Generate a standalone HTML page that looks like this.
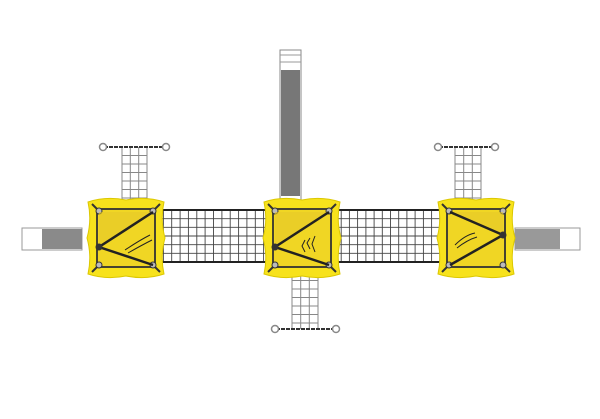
<!DOCTYPE html>
<html><head><style>html,body{margin:0;padding:0;background:#fff;width:600px;height:419px;overflow:hidden}</style></head>
<body>
<svg width="600" height="419" viewBox="0 0 600 419" xmlns="http://www.w3.org/2000/svg">
<defs>
<g id="plat">
<path d="M-38 -36 Q-20 -42 0 -38 Q20 -42 38 -36 Q34 -18 39 0 Q34 18 38 36 Q20 42 0 38 Q-20 42 -38 36 Q-34 18 -39 0 Q-34 -18 -38 -36Z" fill="#f7e21c" stroke="#dcc800" stroke-width="1"/>
<rect x="-29" y="-29" width="58" height="58" fill="#f0d624" stroke="#333" stroke-width="1.8"/>
<path d="M-34 -34L-26 -26M34 -34L26 -26M-34 34L-26 26M34 34L26 26" stroke="#333" stroke-width="2"/>
<circle cx="-27" cy="-27" r="3" fill="#bbb" stroke="#333"/><circle cx="27" cy="-27" r="3" fill="#bbb" stroke="#333"/>
<circle cx="-27" cy="27" r="3" fill="#bbb" stroke="#333"/><circle cx="27" cy="27" r="3" fill="#bbb" stroke="#333"/>
</g>
</defs>
<!-- top slide -->
<rect x="280" y="50" width="21" height="150" fill="#fff" stroke="#888"/>
<rect x="281" y="70" width="19" height="126" fill="#777"/>
<path d="M280 55H301M280 62H301" stroke="#999"/>
<!-- side slides -->
<rect x="22" y="228" width="60" height="22" fill="#fff" stroke="#999"/>
<rect x="42" y="229" width="40" height="20" fill="#8a8a8a"/>
<rect x="515" y="228" width="65" height="22" fill="#fff" stroke="#999"/>
<rect x="515" y="229" width="45" height="20" fill="#999"/>
<!-- ladders -->
<g stroke="#888" stroke-width="1" fill="none">
<path d="M122 147V207M130.3 147V207M138.7 147V207M147 147V207M122 155.5H147M122 164H147M122 172.5H147M122 181H147M122 189.5H147M122 198H147"/>
<path d="M455 147V207M463.7 147V207M472.3 147V207M481 147V207M455 155.5H481M455 164H481M455 172.5H481M455 181H481M455 189.5H481M455 198H481"/>
<path d="M292 272V329M300.7 272V329M309.3 272V329M318 272V329M292 280.5H318M292 289H318M292 297.5H318M292 306H318M292 314.5H318M292 323H318"/>
</g>
<path d="M104 147H165M439 147H494M276 329H335" stroke="#333" stroke-width="2" stroke-dasharray="4 1"/>
<g fill="#fff" stroke="#888" stroke-width="1.5">
<circle cx="103" cy="147" r="3.5"/><circle cx="166" cy="147" r="3.5"/>
<circle cx="438" cy="147" r="3.5"/><circle cx="495" cy="147" r="3.5"/>
<circle cx="275" cy="329" r="3.5"/><circle cx="336" cy="329" r="3.5"/>
</g>
<!-- nets -->
<g stroke="#444" stroke-width="0.9" fill="none">
<path d="M163.4 210V262M171.7 210V262M180.1 210V262M188.4 210V262M196.8 210V262M205.1 210V262M213.5 210V262M221.9 210V262M230.2 210V262M238.6 210V262M246.9 210V262M255.3 210V262M263.6 210V262M155 218.7H272M155 227.3H272M155 236H272M155 244.7H272M155 253.3H272"/>
<path d="M341.2 210V262M349.4 210V262M357.6 210V262M365.9 210V262M374.1 210V262M382.3 210V262M390.5 210V262M398.7 210V262M406.9 210V262M415.1 210V262M423.4 210V262M431.6 210V262M439.8 210V262M333 218.7H448M333 227.3H448M333 236H448M333 244.7H448M333 253.3H448"/>
</g>
<path d="M155 210H272M155 262H272M333 210H448M333 262H448" stroke="#222" stroke-width="2"/>
<!-- platforms -->
<use href="#plat" transform="translate(126,238)"/>
<use href="#plat" transform="translate(302,238)"/>
<use href="#plat" transform="translate(476,238)"/>
<path d="M153 212L99 247L153 212Z M99 212H153L99 247Z" fill="#e6c82a" opacity="0.6"/>
<path d="M329 212L275 247V212Z" fill="#e6c82a" opacity="0.6"/>
<path d="M450 212H503V235Z" fill="#e6c82a" opacity="0.6"/>
<g stroke="#222" stroke-width="2.5" fill="none">
<path d="M153 212L99 247L153 265"/>
<path d="M329 212L275 247L329 265"/>
<path d="M450 212L503 235L450 265"/>
</g>
<g stroke="#222" stroke-width="1" fill="none">
<path d="M125 250Q140 240 150 235M128 253Q142 245 152 240"/>
<path d="M305 240l-3 6 3 6M315 236l-3 8 3 8M310 238l-3 5 3 6"/>
<path d="M455 245Q465 235 475 233M457 248Q467 240 477 237"/>
</g>
<circle cx="99" cy="247" r="3.5" fill="#333"/><circle cx="275" cy="247" r="3.5" fill="#333"/><circle cx="503" cy="235" r="3.5" fill="#333"/>
</svg>
</body></html>
